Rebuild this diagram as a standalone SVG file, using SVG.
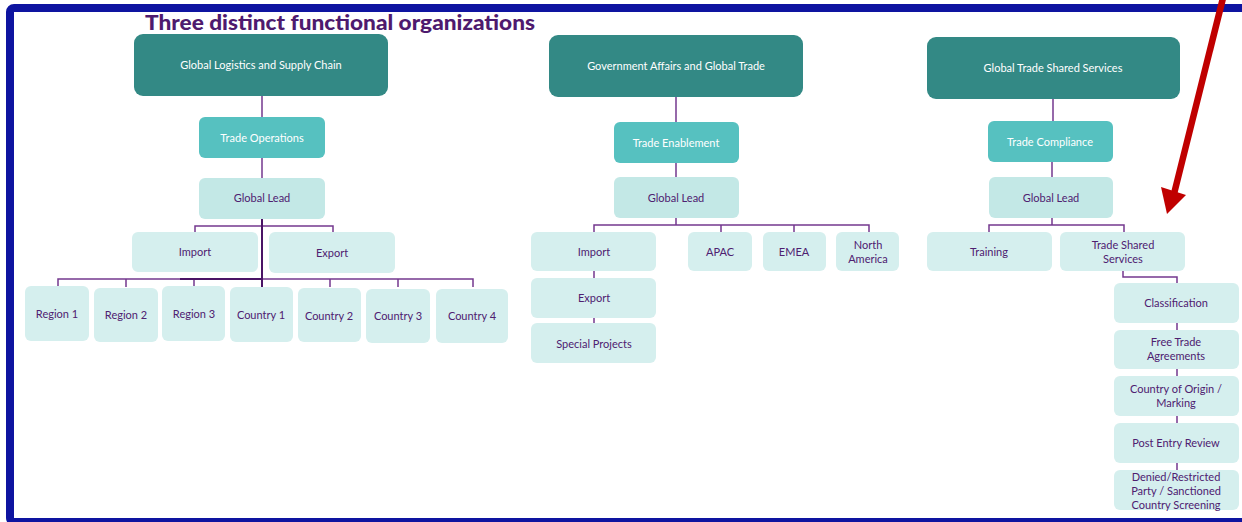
<svg xmlns="http://www.w3.org/2000/svg" width="1242" height="522" viewBox="0 0 1242 522">
<style>
.dark{fill:#338985}
.mid{fill:#56C1C0}
.lead{fill:#C3E8E6}
.leaf{fill:#D5EFEE}
text{font-family:Lato,"Open Sans","Liberation Sans",sans-serif;font-size:11px;text-anchor:middle}
.w{fill:#ffffff}
.p{fill:#4E2070}
.title{font-size:20px;font-weight:900;fill:#4E1A6E;text-anchor:start}
.c{fill:none;stroke:#74388F;stroke-width:1.5}
.stem{fill:none;stroke:#4A1466;stroke-width:2}
</style>
<rect x="0" y="0" width="1242" height="522" fill="#ffffff"/>
<rect x="10" y="8" width="1300" height="514" rx="4" fill="none" stroke="#0E14A0" stroke-width="8"/>
<text class="title" x="145" y="30" textLength="390" lengthAdjust="spacingAndGlyphs">Three distinct functional organizations</text>

<g id="connectors">
<path class="c" d="M262,96V117M262,158V178M195,232V226H333V232M58,287V279H473V287M126,287V279M194,287V279M330,287V279M398,287V279"/>
<path class="stem" d="M262,219V287M180,279H262"/>
<path class="c" d="M676,97V122M676,163V177M676,218V225M594,232V225H869V232M721,232V225M794,232V225M594,271V278M594,318V323"/>
<path class="c" d="M1053,99V121M1052,162V177M1052,218V225M989,232V225H1124V232M1123,271V277H1177V283M1177,323V330M1177,369V376M1177,416V423M1177,463V470"/>
</g>

<g id="n-glsc"><rect class="dark" x="134" y="34" width="254" height="62" rx="9"/><text class="w" x="261" y="69">Global Logistics and Supply Chain</text></g>
<g id="n-tradeops"><rect class="mid" x="199" y="117" width="126" height="41" rx="6"/><text class="w" x="262" y="142">Trade Operations</text></g>
<g id="n-gl1"><rect class="lead" x="199" y="178" width="126" height="41" rx="6"/><text class="p" x="262" y="202">Global Lead</text></g>
<g id="n-import1"><rect class="leaf" x="132" y="232" width="126" height="40" rx="6"/><text class="p" x="195" y="256">Import</text></g>
<g id="n-export1"><rect class="leaf" x="269" y="232" width="126" height="41" rx="6"/><text class="p" x="332" y="257">Export</text></g>
<g id="n-r1"><rect class="leaf" x="25" y="286" width="64" height="55" rx="6"/><text class="p" x="57" y="318">Region 1</text></g>
<g id="n-r2"><rect class="leaf" x="94" y="288" width="64" height="54" rx="6"/><text class="p" x="126" y="319">Region 2</text></g>
<g id="n-r3"><rect class="leaf" x="162" y="286" width="63" height="55" rx="6"/><text class="p" x="194" y="318">Region 3</text></g>
<g id="n-c1"><rect class="leaf" x="230" y="287" width="63" height="55" rx="6"/><text class="p" x="261" y="319">Country 1</text></g>
<g id="n-c2"><rect class="leaf" x="298" y="288" width="63" height="54" rx="6"/><text class="p" x="329" y="320">Country 2</text></g>
<g id="n-c3"><rect class="leaf" x="366" y="289" width="64" height="54" rx="6"/><text class="p" x="398" y="320">Country 3</text></g>
<g id="n-c4"><rect class="leaf" x="436" y="289" width="72" height="54" rx="6"/><text class="p" x="472" y="320">Country 4</text></g>

<g id="n-gagt"><rect class="dark" x="549" y="35" width="254" height="62" rx="9"/><text class="w" x="676" y="70">Government Affairs and Global Trade</text></g>
<g id="n-te"><rect class="mid" x="614" y="122" width="125" height="41" rx="6"/><text class="w" x="676" y="147">Trade Enablement</text></g>
<g id="n-gl2"><rect class="lead" x="614" y="177" width="125" height="41" rx="6"/><text class="p" x="676" y="202">Global Lead</text></g>
<g id="n-import2"><rect class="leaf" x="531" y="232" width="125" height="39" rx="6"/><text class="p" x="594" y="256">Import</text></g>
<g id="n-apac"><rect class="leaf" x="688" y="232" width="64" height="39" rx="6"/><text class="p" x="720" y="256">APAC</text></g>
<g id="n-emea"><rect class="leaf" x="763" y="232" width="63" height="39" rx="6"/><text class="p" x="794" y="256">EMEA</text></g>
<g id="n-na"><rect class="leaf" x="836" y="232" width="63" height="39" rx="6"/><text class="p" x="868" y="249">North</text><text class="p" x="868" y="263">America</text></g>
<g id="n-export2"><rect class="leaf" x="531" y="278" width="125" height="40" rx="6"/><text class="p" x="594" y="302">Export</text></g>
<g id="n-sp"><rect class="leaf" x="531" y="323" width="125" height="40" rx="6"/><text class="p" x="594" y="348">Special Projects</text></g>

<g id="n-gtss"><rect class="dark" x="927" y="37" width="253" height="62" rx="9"/><text class="w" x="1053" y="72">Global Trade Shared Services</text></g>
<g id="n-tc"><rect class="mid" x="988" y="121" width="125" height="41" rx="6"/><text class="w" x="1050" y="146">Trade Compliance</text></g>
<g id="n-gl3"><rect class="lead" x="989" y="177" width="124" height="41" rx="6"/><text class="p" x="1051" y="202">Global Lead</text></g>
<g id="n-training"><rect class="leaf" x="927" y="232" width="125" height="39" rx="6"/><text class="p" x="989" y="256">Training</text></g>
<g id="n-tss"><rect class="leaf" x="1060" y="232" width="125" height="39" rx="6"/><text class="p" x="1123" y="249">Trade Shared</text><text class="p" x="1123" y="263">Services</text></g>
<g id="n-class"><rect class="leaf" x="1114" y="283" width="125" height="40" rx="6"/><text class="p" x="1176" y="307">Classification</text></g>
<g id="n-fta"><rect class="leaf" x="1114" y="330" width="125" height="39" rx="6"/><text class="p" x="1176" y="346">Free Trade</text><text class="p" x="1176" y="360">Agreements</text></g>
<g id="n-coo"><rect class="leaf" x="1114" y="376" width="125" height="40" rx="6"/><text class="p" x="1176" y="393">Country of Origin /</text><text class="p" x="1176" y="407">Marking</text></g>
<g id="n-per"><rect class="leaf" x="1114" y="423" width="125" height="40" rx="6"/><text class="p" x="1176" y="447">Post Entry Review</text></g>
<g id="n-drp"><rect class="leaf" x="1114" y="470" width="125" height="40" rx="6"/><text class="p" x="1176" y="481">Denied/Restricted</text><text class="p" x="1176" y="495">Party / Sanctioned</text><text class="p" x="1176" y="509">Country Screening</text></g>

<g id="red-arrow">
<line x1="1223" y1="-2" x2="1174" y2="194" stroke="#C00000" stroke-width="6.5"/>
<polygon points="1161,187 1186,195 1167,214" fill="#C00000"/>
</g>
</svg>
